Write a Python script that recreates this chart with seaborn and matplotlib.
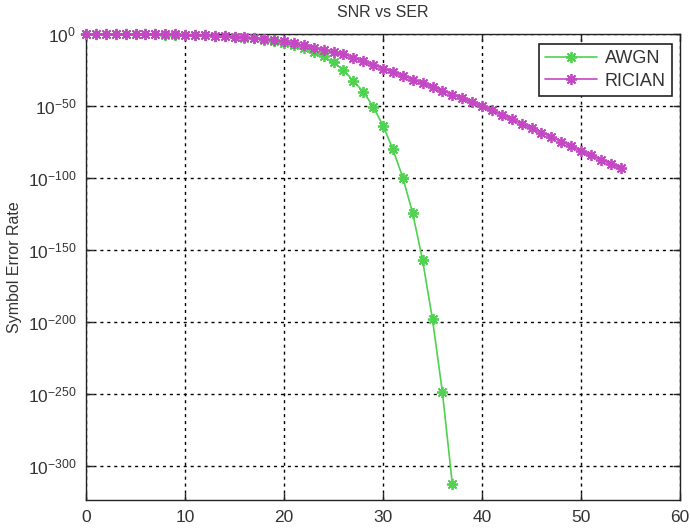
import matplotlib
matplotlib.use("Agg")
import matplotlib.pyplot as plt
import seaborn as sns
import numpy as np
import pandas as pd

# SNR (dB)
snr_awgn = list(range(0, 38))
snr_rician = list(range(0, 55))

# log10(Symbol Error Rate)
log_ser_awgn = [-0.06, -0.08, -0.1, -0.12, -0.16, -0.2, -0.25, -0.31, -0.39, -0.5,
                -0.62, -0.78, -0.98, -1.24, -1.56, -1.97, -2.5, -3.1, -3.9, -4.9,
                -6.2, -7.8, -9.8, -12.4, -15.6, -19.7, -25.0, -32.5, -40.0, -50.3,
                -63.5, -80.0, -99.6, -124.3, -157.0, -198.0, -248.5, -312.0]
log_ser_rician = [-0.03, -0.04, -0.05, -0.06, -0.08, -0.1, -0.13, -0.17, -0.22, -0.33,
                  -0.45, -0.6, -0.8, -1.05, -1.35, -1.75, -2.2, -2.8, -3.5, -4.3,
                  -5.2, -6.5, -7.9, -9.4, -10.9, -12.4, -14.0, -16.5, -19.0, -21.5,
                  -24.0, -26.5, -29.0, -31.6, -34.2, -36.8, -39.4, -42.0, -44.6, -47.3,
                  -50.0, -53.0, -56.0, -59.1, -62.2, -65.3, -68.4, -71.5, -74.6, -77.9,
                  -81.2, -84.2, -87.2, -90.1, -93.0]

ytick_exps = [0, -50, -100, -150, -200, -250, -300]
xticks = [0, 10, 20, 30, 40, 50, 60]

sns.set_theme(style="white")
plt.rcParams['font.family'] = ['Liberation Sans', 'DejaVu Sans']
plt.rcParams['mathtext.fontset'] = 'custom'
plt.rcParams['mathtext.rm'] = 'Liberation Sans'
plt.rcParams['mathtext.it'] = 'Liberation Sans'
plt.rcParams['mathtext.bf'] = 'Liberation Sans'
plt.rcParams['axes.unicode_minus'] = False

fig = plt.figure(figsize=(6.9, 5.3), dpi=100)
ax = fig.add_axes([86/690, 30/530, (680-86)/690, (500-34)/530])

green = '#4fd24f'
magenta = '#c447c4'
asterisk = (8, 2, 0)

df_a = pd.DataFrame({'snr': snr_awgn, 'ser': log_ser_awgn})
df_r = pd.DataFrame({'snr': snr_rician, 'ser': log_ser_rician})

sns.lineplot(data=df_a, x='snr', y='ser', ax=ax, color=green, marker=asterisk,
             markersize=8, markeredgewidth=1.3, markeredgecolor=green,
             linewidth=1.2, label='AWGN', clip_on=False, zorder=3)
sns.lineplot(data=df_r, x='snr', y='ser', ax=ax, color=magenta, marker=asterisk,
             markersize=8, markeredgewidth=1.3, markeredgecolor=magenta,
             linewidth=1.2, label='RICIAN', clip_on=False, zorder=4)

ax.set_xlim(0, 60)
ax.set_ylim(-323.3, 0)
ax.set_xticks(xticks)
ax.set_xticklabels([str(t) for t in xticks])
ax.set_yticks(ytick_exps)
ax.set_yticklabels([r'$10^{%d}$' % e for e in ytick_exps])

ax.grid(True, color='black', linestyle=(0, (2.2, 2.8)), linewidth=1.0)
ax.set_axisbelow(True)
for s in ax.spines.values():
    s.set_color('#222222')
    s.set_linewidth(1.0)
    s.set_visible(True)

ax.tick_params(axis='both', direction='in', length=5, width=1.0, colors='#222222',
               labelsize=12.5, top=True, right=True, bottom=True, left=True,
               labelcolor='#333333')
ax.tick_params(axis='x', pad=7)
ax.tick_params(axis='y', pad=7)

ax.set_title('SNR vs SER', fontsize=11.5, color='#333333', pad=12)
ax.set_xlabel('')
ax.set_ylabel('Symbol Error Rate', fontsize=11.5, color='#333333', labelpad=4)

leg = ax.legend(loc='upper right', fontsize=13, frameon=True, fancybox=False,
                edgecolor='#222222', framealpha=1.0, borderpad=0.35,
                handlelength=2.9, handletextpad=0.4, labelspacing=0.3,
                borderaxespad=0.0,
                bbox_to_anchor=((672 - 86) / 594, (500 - 44) / 466))
leg.get_frame().set_linewidth(1.2)
for t in leg.get_texts():
    t.set_color('#333333')

fig.savefig('out.png', dpi=100)
